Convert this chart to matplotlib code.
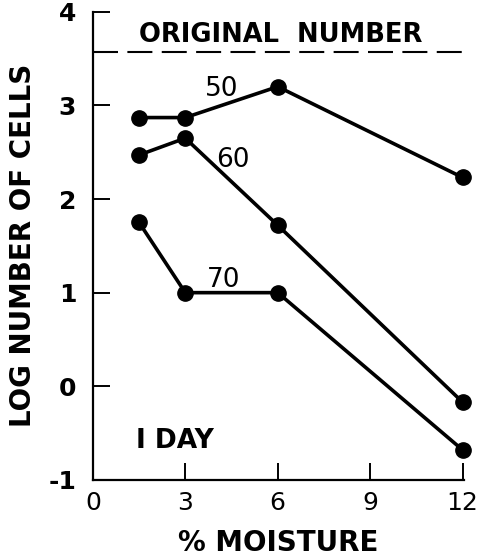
import matplotlib.pyplot as plt

# % moisture and log number of cells, one series per temperature label
moisture = [1.5, 3, 6, 12]
cells_50 = [2.87, 2.87, 3.2, 2.23]
cells_60 = [2.47, 2.65, 1.72, -0.17]
cells_70 = [1.75, 1.0, 1.0, -0.68]
original_number = 3.57

xticks = [0, 3, 6, 9, 12]
yticks = [-1, 0, 1, 2, 3, 4]

fig = plt.figure(figsize=(4.81, 5.6), dpi=100)
ax = fig.add_axes([0.193, 0.143, 0.772, 0.836])

for vals in (cells_50, cells_60, cells_70):
    ax.plot(moisture, vals, color='black', linewidth=2.6, marker='o',
            markersize=11, clip_on=False, zorder=3)

ax.axhline(original_number, color='black', linewidth=1.5, dashes=(12, 4.5))

ax.set_xlim(0, 12.05)
ax.set_ylim(-1, 4)
ax.spines['top'].set_visible(False)
ax.spines['right'].set_visible(False)
for s in ('left', 'bottom'):
    ax.spines[s].set_linewidth(1.6)

ax.set_xticks(xticks)
ax.set_yticks(yticks)
ax.set_xticklabels([str(t) for t in xticks], fontsize=18)
ax.set_yticklabels([str(t) for t in yticks], fontsize=18, fontweight='bold')
ax.tick_params(direction='in', length=12, width=1.4)
ax.tick_params(axis='x', pad=8)
ax.tick_params(axis='y', pad=12)

ax.text(3.65, 3.1, '50', fontsize=19)
ax.text(4.0, 2.34, '60', fontsize=19)
ax.text(3.69, 1.06, '70', fontsize=19)
ax.text(1.41, -0.66, 'I DAY', fontsize=19, fontweight='bold')
ax.text(1.5, 3.68, 'ORIGINAL  NUMBER', fontsize=18.5, fontweight='bold')

ax.set_xlabel('% MOISTURE', fontsize=20, fontweight='bold', labelpad=10)
ax.set_ylabel('LOG NUMBER OF CELLS', fontsize=20, fontweight='bold', labelpad=8)

fig.savefig('out.png', dpi=100)
